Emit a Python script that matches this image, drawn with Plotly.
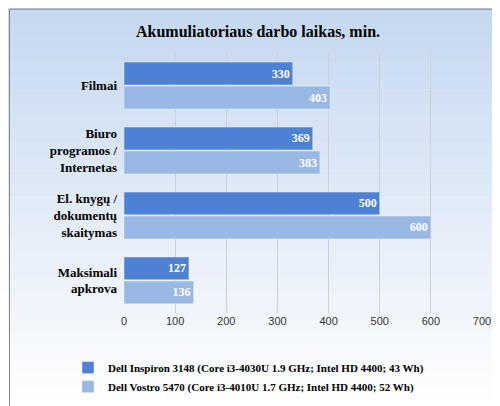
import plotly.graph_objects as go

categories = ["Filmai", "Biuro<br>programos /<br>Internetas", "El. knygų /<br>dokumentų<br>skaitymas", "Maksimali<br>apkrova"]
inspiron = [330, 369, 500, 127]
vostro = [403, 383, 600, 136]
name1 = "Dell Inspiron 3148 (Core i3-4030U 1.9 GHz; Intel HD 4400; 43 Wh)"
name2 = "Dell Vostro 5470 (Core i3-4010U 1.7 GHz; Intel HD 4400; 52 Wh)"

fig = go.Figure()
fig.add_trace(go.Bar(y=categories, x=inspiron, orientation="h", name="<b>" + name1 + "</b>",
                     marker=dict(color="#4f81d3"), texttemplate="<b>%{x}</b>", textposition="inside",
                     insidetextanchor="end", textfont=dict(color="white", size=12, family="Liberation Serif")))
fig.add_trace(go.Bar(y=categories, x=vostro, orientation="h", name="<b>" + name2 + "</b>",
                     marker=dict(color="#9ab8e4"), texttemplate="<b>%{x}</b>", textposition="inside",
                     insidetextanchor="end", textfont=dict(color="white", size=12, family="Liberation Serif")))

shapes = []
n = 30
for i in range(n):
    t = i / (n - 1)
    r = int(197 + (255 - 197) * t); g = int(217 + (255 - 217) * t); b = int(241 + (255 - 241) * t)
    shapes.append(dict(type="rect", xref="paper", yref="paper", x0=-1, x1=2,
                       y0=1 - (i + 1) / n - 0.001, y1=1 - i / n,
                       fillcolor=f"rgb({r},{g},{b})", line=dict(width=0), layer="below"))
shapes.append(dict(type="rect", xref="paper", yref="paper", x0=0.003, x1=0.985, y0=0.004, y1=0.997,
                   line=dict(color="#888", width=1), fillcolor="rgba(0,0,0,0)"))
fig.update_layout(
    width=500, height=406, margin=dict(l=0, r=0, t=0, b=0, autoexpand=False),
    paper_bgcolor="white", plot_bgcolor="rgba(0,0,0,0)",
    shapes=shapes, barmode="group", bargap=0.26, bargroupgap=0.05,
    title=dict(text="<b>Akumuliatoriaus darbo laikas, min.</b>", x=0.5, y=0.955, xanchor="center",
               font=dict(family="Liberation Serif", size=16, color="black")),
    font=dict(family="Liberation Serif", color="black"),
    xaxis=dict(domain=[0.232, 0.948], range=[0, 700], dtick=100, showgrid=True, automargin=False,
               gridcolor="#d0d0d0", zeroline=False, tickfont=dict(family="Liberation Sans", size=11, color="#333")),
    yaxis=dict(domain=[0.249, 0.889], autorange="reversed", automargin=False,
               tickvals=categories, ticktext=["<b>" + c + "</b>" for c in categories],
               tickfont=dict(size=13, family="Liberation Serif", color="black"), ticklabelstandoff=6),
    legend=dict(x=0.12, y=0.15, xanchor="left", yanchor="top", bgcolor="rgba(0,0,0,0)",
                font=dict(size=11, family="Liberation Serif"), traceorder="normal", tracegroupgap=8),
)
fig.write_html("out.html")
